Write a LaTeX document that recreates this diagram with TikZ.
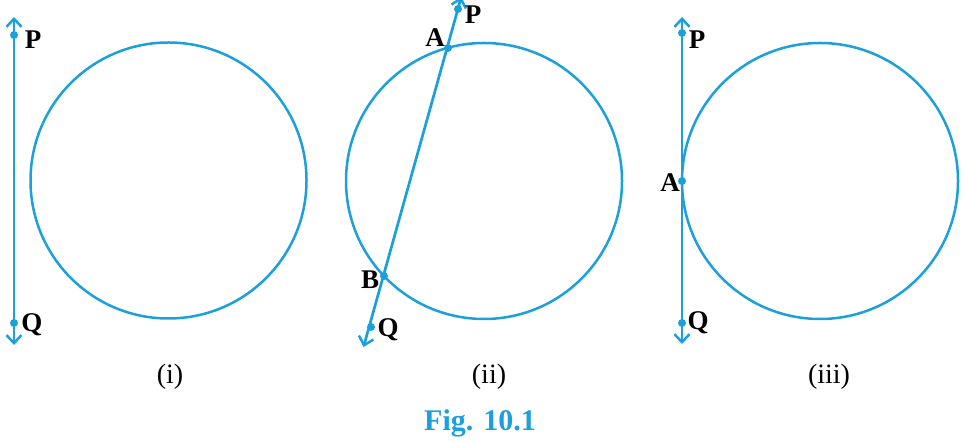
\documentclass[tikz,border=0pt]{standalone}
\usepackage{fontspec}
\setmainfont{Liberation Serif}
\usetikzlibrary{arrows.meta}
\definecolor{cblue}{RGB}{27,160,220}
\tikzset{
  geo/.style={draw=cblue, line width=2.5pt},
  ray/.style={draw=cblue, line width=2.7pt, {Straight Barb[length=8pt,width=15pt,line width=2.5pt]}-{Straight Barb[length=8pt,width=15pt,line width=2.5pt]}},
  pt/.style={fill=cblue},
  lbl/.style={font=\fontsize{27}{30}\selectfont\bfseries, inner sep=0pt},
  subcap/.style={font=\fontsize{28}{32}\selectfont, inner sep=0pt},
}
\begin{document}
\begin{tikzpicture}[x=1pt,y=1pt]
\useasboundingbox (0,0) rectangle (965,441);
% ---------- (i)
\coordinate (t1) at (14,424);
\coordinate (b1) at (14,96);
\coordinate (P1) at (14,406);
\coordinate (Q1) at (14,118);
\coordinate (C1) at (168.5,260.5);
\draw[geo] (C1) circle[radius=138];
\draw[ray] (b1) -- (t1);
\fill[pt] (P1) circle[radius=4];
\fill[pt] (Q1) circle[radius=4];
\node[lbl] (lP1) at (33,401) {P};
\node[lbl] (lQ1) at (32,116) {Q};
\node[subcap] (c1) at (170,64) {(i)};
% ---------- (ii)
\coordinate (C2) at (484,260);
\coordinate (t2) at (461.3,444);
\coordinate (b2) at (363.5,94);
\coordinate (P2) at (458,432);
\coordinate (A2) at (448,393);
\coordinate (B2) at (384,165);
\coordinate (Q2) at (371,114);
\draw[geo] (C2) circle[radius=138];
\draw[ray] (b2) -- (t2);
\foreach \p in {P2,A2,B2,Q2} \fill[pt] (\p) circle[radius=4];
\node[lbl] (lP2) at (473,426) {P};
\node[lbl] (lA2) at (435,403) {A};
\node[lbl] (lB2) at (370,161) {B};
\node[lbl] (lQ2) at (388,111) {Q};
\node[subcap] (c2) at (489,64) {(ii)};
\node[font=\fontsize{30}{34}\selectfont\bfseries, text=cblue, inner sep=0pt] (fig) at (480,18) {Fig. 10.1};
% ---------- (iii)
\coordinate (C3) at (820,260);
\coordinate (t3) at (682,424);
\coordinate (b3) at (682,97);
\coordinate (P3) at (682,408);
\coordinate (A3) at (682,260);
\coordinate (Q3) at (682,118);
\draw[geo] (C3) circle[radius=138];
\draw[ray] (b3) -- (t3);
\foreach \p in {P3,A3,Q3} \fill[pt] (\p) circle[radius=4];
\node[lbl] (lP3) at (697,401) {P};
\node[lbl] (lA3) at (670,258) {A};
\node[lbl] (lQ3) at (698,118) {Q};
\node[subcap] (c3) at (829,64) {(iii)};
\end{tikzpicture}
\end{document}
